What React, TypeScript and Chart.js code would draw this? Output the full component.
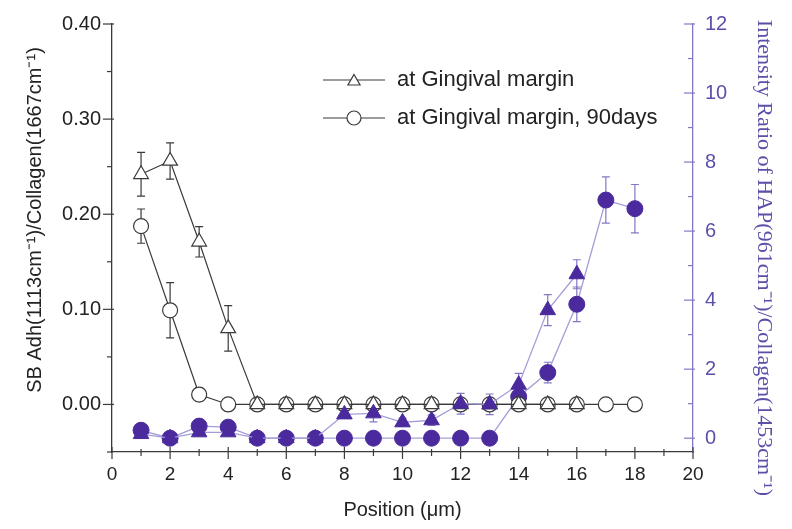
import React, { useEffect, useRef } from 'react';
import { Chart, registerables } from 'chart.js';

Chart.register(...registerables);

// ---- data ----
const positions = [1, 2, 3, 4, 5, 6, 7, 8, 9, 10, 11, 12, 13, 14, 15, 16, 17, 18];

// left axis: SB Adh / Collagen
const gingivalMargin = [0.242, 0.256, 0.171, 0.08, 0, 0, 0, 0, 0, 0, 0, 0, 0, 0, 0, 0];
const gingivalMarginErr = [0.023, 0.019, 0.016, 0.024, 0, 0, 0, 0, 0, 0, 0, 0, 0, 0, 0, 0];
const gingivalMargin90 = [0.1875, 0.099, 0.0104, 0, 0, 0, 0, 0, 0, 0, 0, 0, 0, 0, 0, 0, 0, 0];
const gingivalMargin90Err = [0.018, 0.029, 0.007, 0, 0, 0, 0, 0, 0, 0, 0, 0, 0, 0, 0, 0, 0, 0];

// right axis: HAP / Collagen
const hapMargin = [0.12, 0, 0.17, 0.17, 0, 0, 0, 0.69, 0.72, 0.46, 0.52, 1.0, 0.98, 1.55, 3.71, 4.75];
const hapMarginErr = [0.08, 0, 0.08, 0.08, 0, 0, 0, 0.12, 0.25, 0.12, 0.15, 0.3, 0.3, 0.33, 0.45, 0.42];
const hapMargin90 = [0.23, 0, 0.35, 0.32, 0, 0, 0, 0, 0, 0, 0, 0, 0, 1.2, 1.9, 3.88, 6.9, 6.65];
const hapMargin90Err = [0.08, 0, 0.08, 0.08, 0, 0, 0, 0, 0, 0, 0, 0, 0, 0.2, 0.3, 0.5, 0.67, 0.7];

// ticks
const xTicks = [0, 2, 4, 6, 8, 10, 12, 14, 16, 18, 20];
const xMinorTicks = [1, 3, 5, 7, 9, 11, 13, 15, 17, 19];
const leftTicks = [0, 0.1, 0.2, 0.3, 0.4];
const leftTickLabels = ['0.00', '0.10', '0.20', '0.30', '0.40'];
const leftMinorTicks = [-0.05, 0.05, 0.15, 0.25, 0.35];
const rightTicks = [0, 2, 4, 6, 8, 10, 12];
const rightMinorTicks = [1, 3, 5, 7, 9, 11];

const legendLabels = ['at Gingival margin', 'at Gingival margin, 90days'];
const xTitle = 'Position (\u03bcm)';
const leftTitle = 'SB Adh(1113cm\u207b\u00b9)/Collagen(1667cm\u207b\u00b9)';
const rightTitle = 'Intensity Ratio of HAP(961cm\u207b\u00b9)/Collagen(1453cm\u207b\u00b9)';

// ---- styles ----
const BLACK = '#3a3a3a';
const PURPLE = '#4a2a9c';
const PURPLE_LINE = '#a59dd9';
const PURPLE_AXIS = '#8279c4';
const PURPLE_TEXT = '#5a50a8';
const SANS = '"Liberation Sans", Arial, Helvetica, sans-serif';
const SERIF = '"Liberation Serif", "Times New Roman", serif';

const toPts = (vals: number[]) => vals.map((v, i) => ({ x: positions[i], y: v }));

const errorSets = [
  { vals: gingivalMargin, errs: gingivalMarginErr, axis: 'y', color: BLACK },
  { vals: gingivalMargin90, errs: gingivalMargin90Err, axis: 'y', color: BLACK },
  { vals: hapMargin, errs: hapMarginErr, axis: 'y2', color: PURPLE_AXIS },
  { vals: hapMargin90, errs: hapMargin90Err, axis: 'y2', color: PURPLE_AXIS },
];

function drawTriangle(ctx: CanvasRenderingContext2D, x: number, y: number, r: number) {
  ctx.beginPath();
  for (let k = 0; k < 3; k++) {
    const a = (k * 2 * Math.PI) / 3;
    const px = x + Math.sin(a) * r;
    const py = y - Math.cos(a) * r;
    if (k === 0) ctx.moveTo(px, py);
    else ctx.lineTo(px, py);
  }
  ctx.closePath();
}

const decorPlugin = {
  id: 'decor',
  beforeDatasetsDraw(chart: any) {
    const ctx = chart.ctx as CanvasRenderingContext2D;
    const xs = chart.scales.x;
    ctx.save();
    ctx.lineWidth = 1.2;
    errorSets.forEach((set) => {
      const ys = chart.scales[set.axis];
      ctx.strokeStyle = set.color;
      set.vals.forEach((v, i) => {
        const e = set.errs[i];
        if (!e) return;
        const px = xs.getPixelForValue(positions[i]);
        const top = ys.getPixelForValue(v + e);
        const bot = ys.getPixelForValue(v - e);
        ctx.beginPath();
        ctx.moveTo(px, top);
        ctx.lineTo(px, bot);
        ctx.moveTo(px - 4, top);
        ctx.lineTo(px + 4, top);
        ctx.moveTo(px - 4, bot);
        ctx.lineTo(px + 4, bot);
        ctx.stroke();
      });
    });
    ctx.restore();
  },
  afterDraw(chart: any) {
    const ctx = chart.ctx as CanvasRenderingContext2D;
    const { x: xs, y: ys, y2: ys2 } = chart.scales;
    const area = chart.chartArea;
    ctx.save();

    // tick marks
    ctx.lineWidth = 1.2;
    ctx.strokeStyle = BLACK;
    const line = (x1: number, y1: number, x2: number, y2: number) => {
      ctx.beginPath();
      ctx.moveTo(x1, y1);
      ctx.lineTo(x2, y2);
      ctx.stroke();
    };
    xTicks.forEach((v) => {
      const p = xs.getPixelForValue(v);
      line(p, area.bottom - 5, p, area.bottom + 7);
    });
    xMinorTicks.forEach((v) => {
      const p = xs.getPixelForValue(v);
      line(p, area.bottom - 3, p, area.bottom + 4);
    });
    leftTicks.forEach((v) => {
      const p = ys.getPixelForValue(v);
      line(area.left - 9, p, area.left + 2, p);
    });
    leftMinorTicks.forEach((v) => {
      const p = ys.getPixelForValue(v);
      line(area.left - 5, p, area.left, p);
    });
    ctx.strokeStyle = PURPLE_AXIS;
    rightTicks.forEach((v) => {
      const p = ys2.getPixelForValue(v);
      line(area.right - 9, p, area.right + 2, p);
    });
    rightMinorTicks.forEach((v) => {
      const p = ys2.getPixelForValue(v);
      line(area.right - 5, p, area.right, p);
    });

    // axis titles
    ctx.textAlign = 'center';
    ctx.textBaseline = 'middle';
    ctx.fillStyle = '#222';
    ctx.font = `20px ${SANS}`;
    ctx.fillText(xTitle, (area.left + area.right) / 2, 510);

    ctx.save();
    ctx.translate(35, 220);
    ctx.rotate(-Math.PI / 2);
    ctx.fillText(leftTitle, 0, 0);
    ctx.restore();

    ctx.save();
    ctx.translate(764, 258);
    ctx.rotate(Math.PI / 2);
    ctx.fillStyle = PURPLE_TEXT;
    ctx.font = `22px ${SERIF}`;
    ctx.fillText(rightTitle, 0, 0);
    ctx.restore();

    // legend
    const rows = [80, 118];
    ctx.textAlign = 'left';
    ctx.font = `22px ${SANS}`;
    rows.forEach((ry, k) => {
      ctx.strokeStyle = BLACK;
      ctx.lineWidth = 1.2;
      line(323, ry, 385, ry);
      ctx.fillStyle = '#fff';
      if (k === 0) {
        drawTriangle(ctx, 354, ry + 1.5, 7);
      } else {
        ctx.beginPath();
        ctx.arc(354, ry, 7, 0, Math.PI * 2);
      }
      ctx.fill();
      ctx.stroke();
      ctx.fillStyle = '#222';
      ctx.fillText(legendLabels[k], 397, ry);
    });

    ctx.restore();
  },
};

export default function App() {
  const canvasRef = useRef<HTMLCanvasElement | null>(null);

  useEffect(() => {
    document.body.style.margin = '0';
    const canvas = canvasRef.current;
    if (!canvas) return;

    const xTickFont = { family: SANS, size: 19 };
    const yTickFont = { family: SANS, size: 20 };

    const chart = new Chart(canvas, {
      type: 'line',
      data: {
        datasets: [
          {
            label: 'hap90',
            data: toPts(hapMargin90),
            yAxisID: 'y2',
            borderColor: PURPLE_LINE,
            borderWidth: 1.3,
            pointStyle: 'circle',
            pointRadius: 8,
            pointBackgroundColor: PURPLE,
            pointBorderColor: PURPLE,
            pointBorderWidth: 1,
            order: 3,
          },
          {
            label: legendLabels[1],
            data: toPts(gingivalMargin90),
            yAxisID: 'y',
            borderColor: BLACK,
            borderWidth: 1.2,
            pointStyle: 'circle',
            pointRadius: 7.5,
            pointBackgroundColor: '#fff',
            pointBorderColor: BLACK,
            pointBorderWidth: 1.2,
            order: 2,
          },
          {
            label: legendLabels[0],
            data: toPts(gingivalMargin),
            yAxisID: 'y',
            borderColor: BLACK,
            borderWidth: 1.2,
            pointStyle: 'triangle',
            pointRadius: 8.5,
            pointBackgroundColor: '#fff',
            pointBorderColor: BLACK,
            pointBorderWidth: 1.2,
            order: 1,
          },
          {
            label: 'hap',
            data: toPts(hapMargin),
            yAxisID: 'y2',
            borderColor: PURPLE_LINE,
            borderWidth: 1.3,
            pointStyle: 'triangle',
            pointRadius: 9,
            pointBackgroundColor: PURPLE,
            pointBorderColor: PURPLE,
            pointBorderWidth: 1,
            order: 0,
          },
        ],
      },
      options: {
        responsive: false,
        animation: false,
        layout: { padding: { top: 20, left: 0, right: 0, bottom: 0 } },
        plugins: {
          legend: { display: false },
          tooltip: { enabled: false },
        },
        elements: { line: { tension: 0 } },
        scales: {
          x: {
            type: 'linear',
            min: 0,
            max: 20,
            afterBuildTicks: (s: any) => {
              s.ticks = xTicks.map((v) => ({ value: v }));
            },
            afterFit: (s: any) => {
              s.height = 77;
            },
            ticks: { font: xTickFont, color: '#222', padding: 11, maxRotation: 0 },
            grid: { display: false, drawTicks: false },
            border: { display: true, color: BLACK, width: 1.3 },
          },
          y: {
            type: 'linear',
            position: 'left',
            min: -0.05,
            max: 0.4,
            afterBuildTicks: (s: any) => {
              s.ticks = leftTicks.map((v) => ({ value: v }));
            },
            afterFit: (s: any) => {
              s.width = 112;
            },
            ticks: {
              font: yTickFont,
              color: '#222',
              padding: 11,
              callback: (v: any) => {
                const i = leftTicks.findIndex((t) => Math.abs(t - v) < 1e-9);
                return i >= 0 ? leftTickLabels[i] : '';
              },
            },
            grid: { display: false, drawTicks: false },
            border: { display: true, color: BLACK, width: 1.3 },
          },
          y2: {
            type: 'linear',
            position: 'right',
            min: -0.4,
            max: 12,
            afterBuildTicks: (s: any) => {
              s.ticks = rightTicks.map((v) => ({ value: v }));
            },
            afterFit: (s: any) => {
              s.width = 99;
            },
            ticks: { font: yTickFont, color: PURPLE_TEXT, padding: 12 },
            grid: { display: false, drawTicks: false },
            border: { display: true, color: PURPLE_AXIS, width: 1.3 },
          },
        },
      },
      plugins: [decorPlugin],
    });

    return () => chart.destroy();
  }, []);

  return (
    <div style={{ width: 792, height: 529, background: '#fff' }}>
      <canvas ref={canvasRef} width={792} height={529} />
    </div>
  );
}
